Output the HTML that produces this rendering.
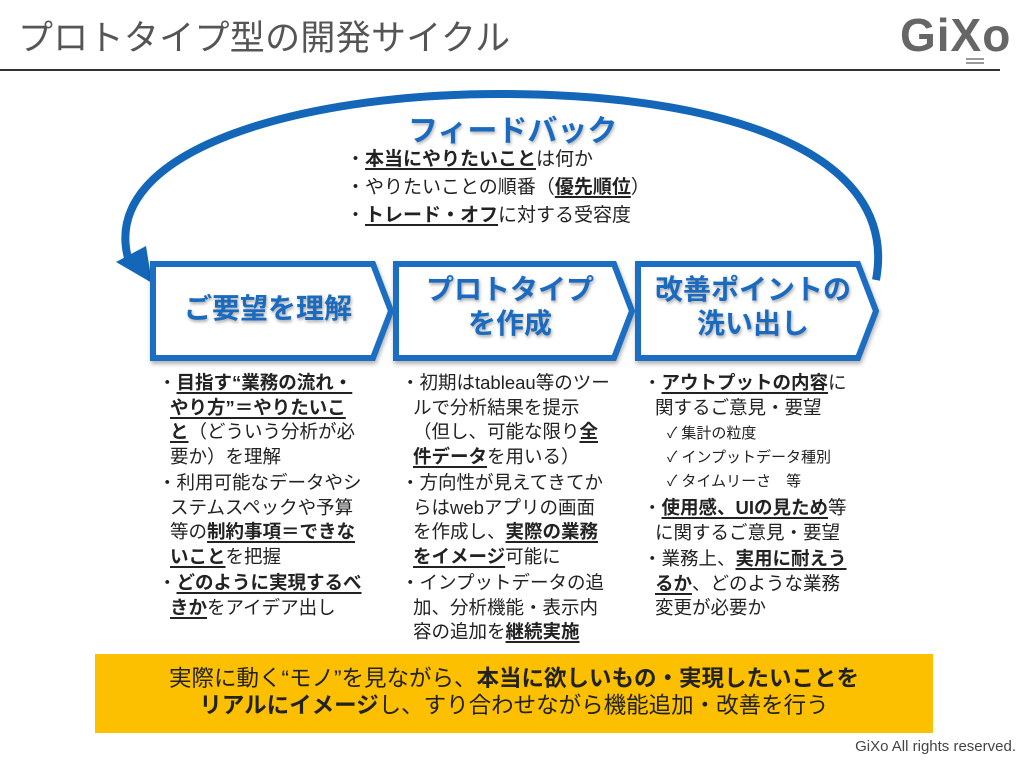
<!DOCTYPE html>
<html><head><meta charset="utf-8"><style>
body{margin:0;width:1024px;height:764px;background:#fff;position:relative;overflow:hidden;font-family:"Liberation Sans","Noto Sans CJK JP",sans-serif;color:#222}
.a{position:absolute;white-space:nowrap}
b{font-weight:bold}
u{text-decoration:underline;text-underline-offset:3px;text-decoration-thickness:1.5px}
.col{position:absolute;font-size:18.5px;line-height:24.5px;white-space:nowrap}
.col p{margin:0 0 2px 0;padding-left:12px;text-indent:-12px}
.col .c{font-size:15px;padding-left:24px;text-indent:0;line-height:24px;margin:0}
.bx{position:absolute;color:#1a6bc0;font-weight:bold;font-size:28px;text-align:center;line-height:34px;text-shadow:1px 2px 3px rgba(0,0,0,.35)}
</style></head><body>
<div class="a" style="left:18px;top:10px;font-size:35px;color:#555;letter-spacing:0.3px">プロトタイプ型の開発サイクル</div>
<div class="a" style="left:900px;top:8px;font-size:46px;font-weight:bold;color:#666;letter-spacing:1px">GiXo</div>
<div class="a" style="left:966px;top:58px;width:18px;height:2px;background:#999"></div>
<div class="a" style="left:966px;top:62px;width:18px;height:2px;background:#999"></div>
<div class="a" style="left:0;top:69px;width:1000px;height:2px;background:#333"></div>
<svg class="a" style="left:0;top:0" width="1024" height="400">
<defs><filter id="s" x="-10%" y="-10%" width="120%" height="130%"><feDropShadow dx="1" dy="3" stdDeviation="2" flood-opacity="0.3"/></filter></defs>
<path d="M128 258 C 100 150, 300 94, 500 94 C 720 94, 900 150, 876 280" fill="none" stroke="#1466b8" stroke-width="8"/>
<polygon points="116,262 146,246 152,283" fill="#1466b8"/>
<g fill="#fff" stroke="#1b6ec2" stroke-width="6" filter="url(#s)">
<polygon points="153,264 373,264 391,311 373,358 153,358"/>
<polygon points="396,264 614,264 632,311 614,358 396,358"/>
<polygon points="638,264 858,264 876,311 858,358 638,358"/>
</g>
</svg>
<div class="bx" style="left:153px;top:292px;width:230px">ご要望を理解</div>
<div class="bx" style="left:396px;top:273px;width:228px">プロトタイプ<br>を作成</div>
<div class="bx" style="left:638px;top:273px;width:230px">改善ポイントの<br>洗い出し</div>
<div class="a" style="left:408px;top:106px;font-size:30px;font-weight:bold;color:#1a6bc0;text-shadow:1px 2px 3px rgba(0,0,0,.3)">フィードバック</div>
<div class="a" style="left:346px;top:146px;font-size:19px;line-height:28px">
・<b><u>本当にやりたいこと</u></b>は何か<br>・やりたいことの順番（<b><u>優先順位</u></b>）<br>・<b><u>トレード・オフ</u></b>に対する受容度</div>
<div class="col" style="left:158px;top:371px">
<p>・<b><u>目指す“業務の流れ・</u></b><br><b><u>やり方”＝やりたいこ</u></b><br><b><u>と</u></b>（どういう分析が必<br>要か）を理解</p>
<p>・利用可能なデータやシ<br>ステムスペックや予算<br>等の<b><u>制約事項＝できな</u></b><br><b><u>いこと</u></b>を把握</p>
<p>・<b><u>どのように実現するべ</u></b><br><b><u>きか</u></b>をアイデア出し</p>
</div>
<div class="col" style="left:401px;top:371px">
<p>・初期はtableau等のツー<br>ルで分析結果を提示<br>（但し、可能な限り<b><u>全</u></b><br><b><u>件データ</u></b>を用いる）</p>
<p>・方向性が見えてきてか<br>らはwebアプリの画面<br>を作成し、<b><u>実際の業務</u></b><br><b><u>をイメージ</u></b>可能に</p>
<p>・インプットデータの追<br>加、分析機能・表示内<br>容の追加を<b><u>継続実施</u></b></p>
</div>
<div class="col" style="left:643px;top:371px">
<p>・<b><u>アウトプットの内容</u></b>に<br>関するご意見・要望</p>
<p class="c">✓ 集計の粒度</p>
<p class="c">✓ インプットデータ種別</p>
<p class="c" style="margin-bottom:2px">✓ タイムリーさ　等</p>
<p>・<b><u>使用感、UIの見ため</u></b>等<br>に関するご意見・要望</p>
<p>・業務上、<b><u>実用に耐えう</u></b><br><b><u>るか</u></b>、どのような業務<br>変更が必要か</p>
</div>
<div class="a" style="left:95px;top:654px;width:838px;height:79px;background:#fcc000;text-align:center;font-size:22.5px;line-height:27px;padding-top:11px;box-sizing:border-box">
実際に動く“モノ”を見ながら、<b>本当に欲しいもの・実現したいことを</b><br><b>リアルにイメージ</b>し、すり合わせながら機能追加・改善を行う</div>
<div class="a" style="right:8px;top:738px;font-size:15px;color:#444">GiXo All rights reserved.</div>
</body></html>
